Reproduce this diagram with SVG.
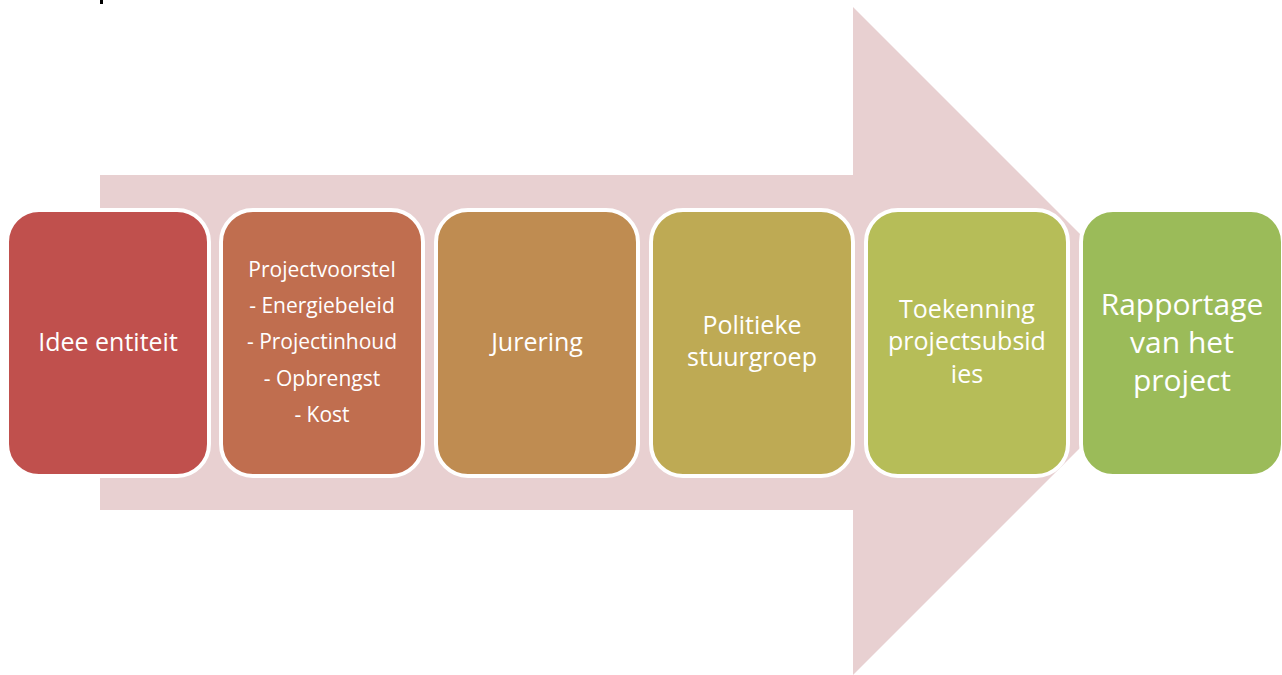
<svg xmlns="http://www.w3.org/2000/svg" width="1282" height="675" viewBox="0 0 1282 675">
<style>
.box{stroke:#FFFFFF;stroke-width:4}
.t{font-family:"Open Sans","Liberation Sans",sans-serif;fill:#FFFFFF;text-anchor:middle}
.m{font-size:25px}
.s{font-size:21px}
.l{font-size:30px}
</style>
<rect width="1282" height="675" fill="#FFFFFF"/>
<rect x="100" y="0" width="3" height="4" fill="#000000"/>
<g id="connectors">
<path d="M100,175 H853 V7 L1187,341 L853,675 V510 H100 Z" fill="#E8D0D1"/>
</g>
<g id="n1"><rect class="box" x="7" y="210" width="202" height="266" rx="32" fill="#C0504D"/>
<text class="t m" x="108" y="351">Idee entiteit</text></g>
<g id="n2"><rect class="box" x="221" y="210" width="202" height="266" rx="32" fill="#C06E4F"/>
<text class="t s" x="322" y="277">Projectvoorstel</text>
<text class="t s" x="322" y="313">- Energiebeleid</text>
<text class="t s" x="322" y="349">- Projectinhoud</text>
<text class="t s" x="322" y="386">- Opbrengst</text>
<text class="t s" x="322" y="422">- Kost</text></g>
<g id="n3"><rect class="box" x="436" y="210" width="202" height="266" rx="32" fill="#BF8C51"/>
<text class="t m" x="537" y="351">Jurering</text></g>
<g id="n4"><rect class="box" x="651" y="210" width="202" height="266" rx="32" fill="#BEAA54"/>
<text class="t m" x="752" y="334">Politieke</text>
<text class="t m" x="752" y="366">stuurgroep</text></g>
<g id="n5"><rect class="box" x="866" y="210" width="202" height="266" rx="32" fill="#B6BD58"/>
<text class="t m" x="967" y="318">Toekenning</text>
<text class="t m" x="967" y="350">projectsubsid</text>
<text class="t m" x="967" y="383">ies</text></g>
<g id="n6"><rect class="box" x="1081" y="210" width="202" height="266" rx="32" fill="#9BBB59"/>
<text class="t l" x="1182" y="315">Rapportage</text>
<text class="t l" x="1182" y="353">van het</text>
<text class="t l" x="1182" y="391">project</text></g>
</svg>
